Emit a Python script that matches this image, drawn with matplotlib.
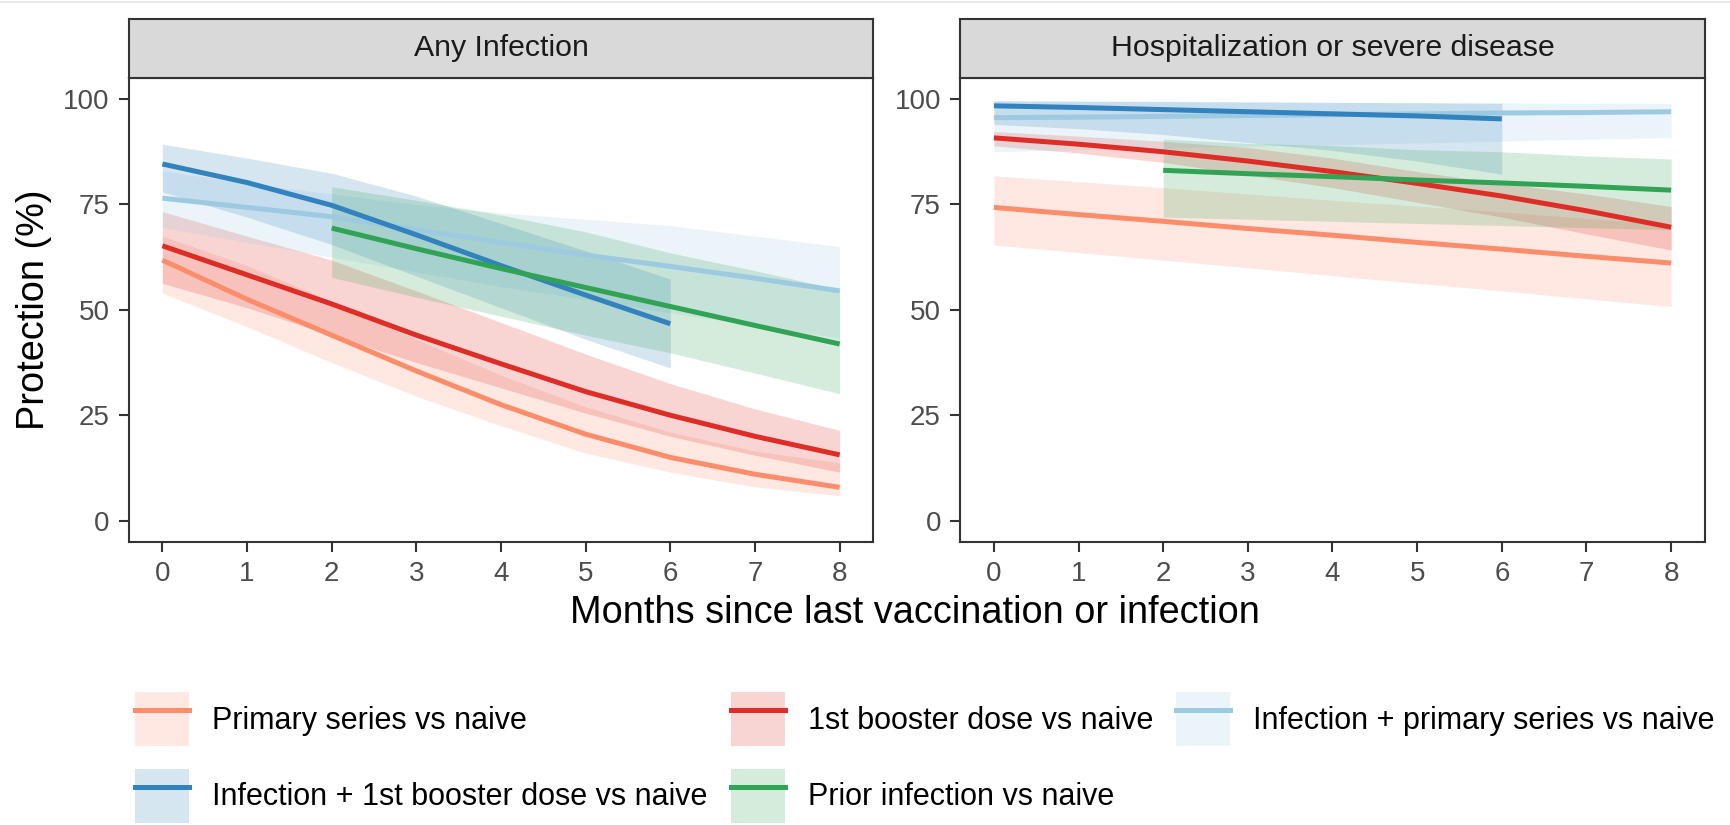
import matplotlib
matplotlib.use("Agg")
import matplotlib.pyplot as plt
from matplotlib.patches import Patch
from matplotlib.lines import Line2D
from matplotlib.legend_handler import HandlerTuple

plt.rcParams['font.family'] = ['Liberation Sans', 'DejaVu Sans']

# ---------------- data ----------------
months_full = [0, 1, 2, 3, 4, 5, 6, 7, 8]
months_to6 = [0, 1, 2, 3, 4, 5, 6]
months_from2 = [2, 3, 4, 5, 6, 7, 8]

series_names = [
    "Primary series vs naive",
    "1st booster dose vs naive",
    "Infection + primary series vs naive",
    "Infection + 1st booster dose vs naive",
    "Prior infection vs naive",
]
series_colors = ["#FC8D6A", "#DE2D26", "#9ECAE1", "#3182BD", "#31A354"]

panel_titles = ["Any Infection", "Hospitalization or severe disease"]

# Any infection
inf_primary_mean = [61.8, 52.5, 44.0, 35.5, 27.5, 20.5, 15.0, 11.0, 7.9]
inf_primary_low = [54.0, 46.0, 37.5, 29.5, 22.5, 16.0, 11.5, 8.0, 5.9]
inf_primary_high = [67.5, 60.5, 52.0, 43.0, 34.5, 27.0, 21.0, 16.5, 13.7]

inf_booster_mean = [65.2, 58.3, 51.4, 44.0, 37.2, 30.6, 25.0, 20.0, 15.6]
inf_booster_low = [56.3, 50.5, 44.0, 37.5, 31.5, 25.5, 20.0, 15.5, 11.5]
inf_booster_high = [73.3, 67.5, 61.8, 54.5, 47.0, 39.5, 32.5, 26.5, 21.4]

inf_infprim_mean = [76.5, 74.3, 72.1, 69.0, 66.0, 63.0, 60.3, 57.5, 54.5]
inf_infprim_low = [69.5, 66.0, 62.5, 59.0, 55.5, 52.5, 49.3, 46.3, 43.3]
inf_infprim_high = [83.0, 80.0, 77.5, 75.0, 73.0, 71.5, 70.0, 67.5, 65.0]

inf_infboost_mean = [84.6, 80.2, 74.8, 67.8, 60.5, 53.5, 46.7]
inf_infboost_low = [78.0, 72.0, 65.5, 58.0, 50.5, 43.0, 36.2]
inf_infboost_high = [89.3, 86.0, 82.4, 77.0, 70.5, 64.0, 57.3]

inf_prior_mean = [69.4, 64.5, 59.8, 55.3, 50.8, 46.3, 41.9]
inf_prior_low = [57.7, 53.0, 48.5, 44.0, 39.8, 35.0, 30.1]
inf_prior_high = [79.2, 76.0, 72.5, 68.5, 63.5, 59.3, 54.8]

# Hospitalization or severe disease
hosp_primary_mean = [74.3, 72.6, 71.0, 69.3, 67.7, 66.0, 64.4, 62.7, 61.1]
hosp_primary_low = [65.4, 63.6, 61.8, 60.0, 58.1, 56.3, 54.5, 52.6, 50.8]
hosp_primary_high = [81.8, 80.4, 79.0, 77.5, 76.0, 74.6, 73.2, 71.7, 70.2]

hosp_booster_mean = [90.8, 89.3, 87.5, 85.3, 82.8, 80.0, 77.0, 73.5, 69.6]
hosp_booster_low = [88.9, 87.2, 85.0, 82.0, 79.0, 75.5, 72.0, 68.0, 64.2]
hosp_booster_high = [92.3, 91.2, 90.0, 88.5, 86.0, 82.8, 80.0, 77.5, 74.5]

hosp_infprim_mean = [95.6, 95.7, 95.9, 96.1, 96.3, 96.5, 96.7, 96.8, 97.0]
hosp_infprim_low = [87.5, 88.0, 88.4, 88.8, 89.2, 89.6, 90.0, 90.5, 90.9]
hosp_infprim_high = [99.6, 99.5, 99.5, 99.4, 99.3, 99.2, 99.1, 99.0, 99.0]

hosp_infboost_mean = [98.4, 98.0, 97.5, 97.0, 96.5, 96.0, 95.3]
hosp_infboost_low = [94.0, 93.0, 91.6, 89.7, 87.8, 85.3, 82.2]
hosp_infboost_high = [99.6, 99.5, 99.4, 99.3, 99.2, 99.1, 99.0]

hosp_prior_mean = [83.1, 82.3, 81.6, 80.8, 80.1, 79.3, 78.4]
hosp_prior_low = [72.0, 71.5, 71.0, 70.5, 70.0, 69.5, 69.0]
hosp_prior_high = [90.5, 89.5, 89.0, 88.0, 87.5, 86.5, 85.8]

x_ticks = [0, 1, 2, 3, 4, 5, 6, 7, 8]
y_ticks = [0, 25, 50, 75, 100]

panels = [
    [
        (months_full, inf_primary_mean, inf_primary_low, inf_primary_high),
        (months_full, inf_booster_mean, inf_booster_low, inf_booster_high),
        (months_full, inf_infprim_mean, inf_infprim_low, inf_infprim_high),
        (months_to6, inf_infboost_mean, inf_infboost_low, inf_infboost_high),
        (months_from2, inf_prior_mean, inf_prior_low, inf_prior_high),
    ],
    [
        (months_full, hosp_primary_mean, hosp_primary_low, hosp_primary_high),
        (months_full, hosp_booster_mean, hosp_booster_low, hosp_booster_high),
        (months_full, hosp_infprim_mean, hosp_infprim_low, hosp_infprim_high),
        (months_to6, hosp_infboost_mean, hosp_infboost_low, hosp_infboost_high),
        (months_from2, hosp_prior_mean, hosp_prior_low, hosp_prior_high),
    ],
]

# ---------------- layout ----------------
W, H = 1731, 825
fig = plt.figure(figsize=(W / 100, H / 100), dpi=100)
fig.patch.set_facecolor("white")

def fx(px):
    return px / W

def fy(py):
    return 1 - py / H

panel_left_px = [128.5, 960.0]
panel_w_px = 745.0
panel_top_px, panel_bot_px = 78.0, 541.7
strip_top_px = 19.0

ALPHA = 0.2
LW = 3.6
border_c = "#333333"

for i, (lp, data) in enumerate(zip(panel_left_px, panels)):
    ax = fig.add_axes([fx(lp), fy(panel_bot_px), panel_w_px / W,
                       (panel_bot_px - panel_top_px) / H])
    for (xs, m, lo, hi), c in zip(data, series_colors):
        ax.fill_between(xs, lo, hi, color=c, alpha=ALPHA, linewidth=0)
    for (xs, m, lo, hi), c in zip(data, series_colors):
        ax.plot(xs, m, color=c, linewidth=LW, solid_capstyle="butt")
    ax.set_xlim(-0.4, 8.4)
    ax.set_ylim(-5, 105)
    ax.set_xticks(x_ticks)
    ax.set_yticks(y_ticks)
    ax.set_xticklabels([str(v) for v in x_ticks])
    ax.set_yticklabels([str(v) for v in y_ticks])
    ax.tick_params(axis="both", length=7.2, width=1.5, color=border_c,
                   labelsize=20, labelcolor="#4D4D4D", pad=6.5)
    for sp in ax.spines.values():
        sp.set_color(border_c)
        sp.set_linewidth(1.5)
    ax.grid(False)
    ax.set_facecolor("white")

    # strip
    sax = fig.add_axes([fx(lp), fy(panel_top_px), panel_w_px / W,
                        (panel_top_px - strip_top_px) / H])
    sax.set_facecolor("#D9D9D9")
    sax.set_xticks([])
    sax.set_yticks([])
    for sp in sax.spines.values():
        sp.set_color(border_c)
        sp.set_linewidth(1.5)
    sax.text(0.5, 0.5, panel_titles[i], ha="center", va="center",
             fontsize=21.8, color="#1A1A1A", transform=sax.transAxes)

# axis titles
fig.text(fx(34), fy(310), "Protection (%)", rotation=90, ha="center",
         va="center", fontsize=27.3, color="black")
fig.text(fx(915), fy(613), "Months since last vaccination or infection",
         ha="center", va="center", fontsize=27.3, color="black")

# faint top frame line
fig.add_artist(Line2D([0, 1], [fy(2), fy(2)], transform=fig.transFigure,
                      color="#E6E6E6", linewidth=1.2))

# legend (row-major order in appearance)
handles = []
for c in series_colors:
    handles.append((Patch(facecolor=c, alpha=ALPHA, edgecolor="none"),
                    Line2D([], [], color=c, linewidth=LW)))
order = [0, 3, 1, 4, 2]
leg = fig.legend([handles[k] for k in order], [series_names[k] for k in order],
                 handler_map={tuple: HandlerTuple(ndivide=1, pad=0)},
                 loc="upper left", bbox_to_anchor=(fx(135), fy(692)),
                 ncol=3, frameon=False, fontsize=22.0, borderpad=0,
                 borderaxespad=0, handlelength=1.77, handleheight=2.36,
                 labelspacing=0.73, handletextpad=0.75, columnspacing=0.76)

fig.savefig("out.png", dpi=100, facecolor="white")
